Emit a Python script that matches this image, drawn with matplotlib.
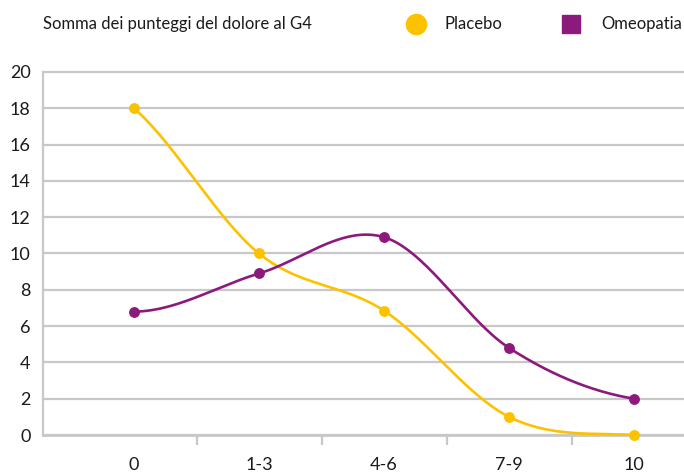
import numpy as np
import matplotlib
matplotlib.use("Agg")
import matplotlib.pyplot as plt
from matplotlib.lines import Line2D

plt.rcParams['font.family'] = ['Lato', 'DejaVu Sans']

# ---- data ----
categories = ["0", "1-3", "4-6", "7-9", "10"]
placebo = [18, 10, 6.85, 1, 0]
omeopatia = [6.8, 8.9, 10.9, 4.8, 2]
y_ticks = [0, 2, 4, 6, 8, 10, 12, 14, 16, 18, 20]
title = "Somma dei punteggi del dolore al G4"
series_names = ["Placebo", "Omeopatia"]

YELLOW = "#FCC200"
PURPLE = "#8C1A7C"
GRID = "#C8C8C8"
TEXT = "#1a1a1a"


def smooth_curve(y, start_factor=0.5, end_factor=0.5, n=60):
    """Cubic Hermite (Catmull-Rom tangents) through the points, for drawing only."""
    y = np.asarray(y, dtype=float)
    x = np.arange(len(y), dtype=float)
    m = np.empty_like(y)
    m[1:-1] = (y[2:] - y[:-2]) / 2.0
    m[0] = (y[1] - y[0]) * start_factor
    m[-1] = (y[-1] - y[-2]) * end_factor
    xs, ys = [], []
    for i in range(len(y) - 1):
        t = np.linspace(0, 1, n)
        h00 = 2 * t**3 - 3 * t**2 + 1
        h10 = t**3 - 2 * t**2 + t
        h01 = -2 * t**3 + 3 * t**2
        h11 = t**3 - t**2
        xs.append(x[i] + t)
        ys.append(h00 * y[i] + h10 * m[i] + h01 * y[i + 1] + h11 * m[i + 1])
    return np.concatenate(xs), np.concatenate(ys)


fig = plt.figure(figsize=(6.84, 4.74), dpi=100)
ax = fig.add_axes([43 / 684, 39 / 474, 1 - 43 / 684, (435 - 72) / 474])

xpos = np.arange(len(categories))
for vals, col, sf, ef in [(placebo, YELLOW, 0.75, 0.4), (omeopatia, PURPLE, 0.0, 0.4)]:
    sx, sy = smooth_curve(vals, sf, ef)
    ax.plot(sx, sy, color=col, lw=1.9, solid_capstyle='round', zorder=3, clip_on=False)
    ax.plot(xpos, vals, 'o', color=col, ms=6.8, zorder=4, clip_on=False)

ax.set_xlim(-0.728, 4.4)
ax.set_ylim(0, 20)
ax.set_yticks(y_ticks)
ax.set_yticklabels([str(v) for v in y_ticks])
ax.set_xticks(xpos)
ax.set_xticklabels(categories)
ax.set_xticks(xpos[:-1] + 0.5, minor=True)

ax.yaxis.grid(True, color=GRID, lw=1.6)
ax.set_axisbelow(True)
for g in ax.get_ygridlines():
    g.set_clip_on(False)

for s in ['top', 'right']:
    ax.spines[s].set_visible(False)
ax.spines['left'].set_color(GRID)
ax.spines['left'].set_linewidth(1.6)
ax.spines['bottom'].set_color(GRID)
ax.spines['bottom'].set_linewidth(2.0)

ax.tick_params(axis='y', length=0, pad=9, labelsize=13, labelcolor=TEXT)
ax.tick_params(axis='x', which='major', length=0, pad=16, labelsize=13, labelcolor=TEXT)
ax.tick_params(axis='x', which='minor', length=7.5, width=1.6, color=GRID, direction='out')

# ---- header: title and legend ----
ty = 1 - 24 / 474
fig.text(43 / 684, ty, title, fontsize=12, color=TEXT, ha='left', va='center')
fig.add_artist(Line2D([416 / 684], [ty], marker='o', ms=14.5, color=YELLOW, lw=0,
                      transform=fig.transFigure))
fig.text(445 / 684, ty, series_names[0], fontsize=12, color=TEXT, ha='left', va='center')
fig.add_artist(Line2D([571 / 684], [ty], marker='s', ms=13.5, color=PURPLE, lw=0,
                      transform=fig.transFigure))
fig.text(601 / 684, ty, series_names[1], fontsize=12, color=TEXT, ha='left', va='center')

fig.savefig("out.png", dpi=100)
